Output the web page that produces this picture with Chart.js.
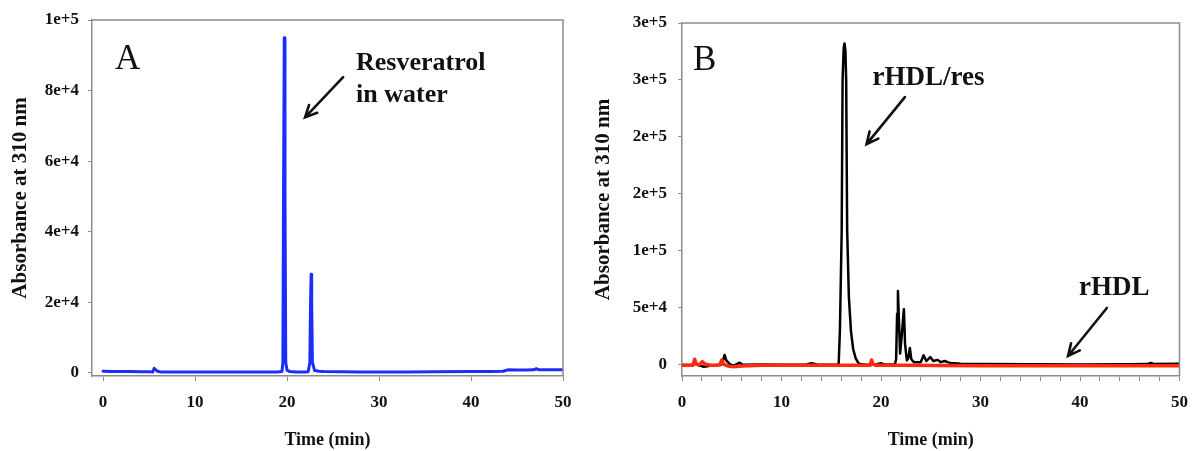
<!DOCTYPE html>
<html><head><meta charset="utf-8">
<script src="https://cdn.jsdelivr.net/npm/chart.js@4.4.1/dist/chart.umd.min.js"></script>
<style>
html,body{margin:0;padding:0;background:#fff;}
#wrap{position:relative;width:1199px;height:451px;overflow:hidden;}
.panel{position:absolute;top:0;height:451px;}
#pa{left:0;width:590px;}
#pb{left:590px;width:609px;}
</style></head><body>
<div id="wrap"><div class="panel" id="pa"><canvas id="ca"></canvas></div><div class="panel" id="pb"><canvas id="cb"></canvas></div></div>
<script>
// ---- Panel A: resveratrol in water ----
const aTime = [0,1,2,3,4,5,5.4,5.55,5.7,5.9,6.3,8,10,12,14,16,17,18,19,19.45,19.55,19.62,19.7,19.78,19.86,20.0,20.3,21,21.5,22,22.3,22.48,22.56,22.62,22.68,22.76,23.0,23.5,24,26,28,30,33,36,40,42,43.5,44,45,46,46.8,47.1,47.4,48,50];
const aAbs  = [500,450,420,400,380,350,250,1300,1000,500,300,300,250,250,250,270,300,250,280,400,3000,50000,95000,50000,3000,800,400,300,300,300,350,3000,20000,28000,20000,3000,700,500,400,350,300,300,300,350,400,450,500,900,850,850,900,1200,900,950,950];
const aYTicks = [0,20000,40000,60000,80000,100000];
const aYTickLabels = ['0','2e+4','4e+4','6e+4','8e+4','1e+5'];
const aXTicks = [0,10,20,30,40,50];
const aXTickLabels = ['0','10','20','30','40','50'];

// ---- Panel B: rHDL/res (black) and rHDL (red) ----
const bTime = [0,1,1.3,1.6,2.2,3,4.0,4.15,4.28,4.45,4.8,5.2,5.8,6.1,8,10,12.5,13,13.6,15.6,15.75,15.87,16.05,16.14,16.25,16.33,16.42,16.5,16.6,16.77,16.98,17.2,17.45,17.7,17.9,18.5,19.5,20,20.3,21.4,21.52,21.62,21.7,21.8,21.92,22.05,22.3,22.42,22.6,22.75,22.9,23.05,23.3,24.0,24.28,24.55,24.95,25.25,25.7,26.0,26.4,26.7,27,28,30,35,40,45,46.8,47.1,47.4,50];
const bAbs  = [0,200,1500,0,-1500,-500,500,5000,8800,4000,800,-500,2000,200,500,200,500,1500,500,200,1500,30000,118000,250000,278000,282000,276000,250000,118000,60000,30000,14000,6000,2000,800,300,500,1500,500,600,5000,45000,65000,40000,10000,22000,49000,18000,4000,6000,15000,5000,2500,2500,8500,3500,7000,3500,4500,2500,3500,2500,1800,1200,800,600,500,700,800,1800,900,1100];
const rTime = [0,1.1,1.28,1.42,1.8,2.05,2.3,2.8,3.8,4.0,4.2,4.6,5.2,6,8,12,16,18.9,19.05,19.2,19.5,22,30,40,50];
const rAbs  = [-300,-300,5000,600,500,2900,900,-200,0,4400,600,-800,-1500,-800,-300,-200,-300,-200,4400,500,-200,-300,-600,-700,-600];
const bYTicks = [0,50000,100000,150000,200000,250000,300000];
const bYTickLabels = ['0','5e+4','1e+5','2e+5','2e+5','3e+5','3e+5'];
const bXTicks = [0,2,4,6,8,10,12,14,16,18,20,22,24,26,28,30,32,34,36,38,40,42,44,46,48,50];
const bXTickLabels = ['0','','','','','10','','','','','20','','','','','30','','','','','40','','','','','50'];

const SERIF = '"Liberation Serif","Times New Roman",serif';
const AXIS_GRAY = '#8c8c8c';

function pts(xs, ys){ return xs.map((x,i)=>({x:x, y:ys[i]})); }

function makeAnnot(texts, arrows){
  return {
    id:'annot',
    afterDraw(chart){
      const {ctx, chartArea:ca, scales:{x,y}} = chart;
      ctx.save();
      ctx.strokeStyle = AXIS_GRAY; ctx.lineWidth = 1.5;
      ctx.beginPath(); ctx.moveTo(ca.left, ca.top); ctx.lineTo(ca.right, ca.top); ctx.lineTo(ca.right, ca.bottom); ctx.stroke();
      ctx.fillStyle = '#111'; ctx.textAlign = 'left'; ctx.textBaseline = 'alphabetic';
      for (const t of texts){
        ctx.font = t.font + ' ' + SERIF;
        ctx.fillText(t.text, x.getPixelForValue(t.x), y.getPixelForValue(t.y));
      }
      ctx.strokeStyle = '#111'; ctx.lineWidth = 2.6; ctx.lineCap = 'round';
      for (const a of arrows){
        const x1 = x.getPixelForValue(a.x1), y1 = y.getPixelForValue(a.y1);
        const x2 = x.getPixelForValue(a.x2), y2 = y.getPixelForValue(a.y2);
        const ang = Math.atan2(y2-y1, x2-x1), L = 13;
        ctx.beginPath(); ctx.moveTo(x1,y1); ctx.lineTo(x2,y2);
        ctx.moveTo(x2 - L*Math.cos(ang-0.45), y2 - L*Math.sin(ang-0.45)); ctx.lineTo(x2,y2);
        ctx.lineTo(x2 - L*Math.cos(ang+0.45), y2 - L*Math.sin(ang+0.45));
        ctx.stroke();
      }
      ctx.restore();
    }
  };
}

function makeChart(canvasId, datasets, cfg){
  return new Chart(document.getElementById(canvasId), {
    type:'line',
    data:{datasets: datasets},
    options:{
      responsive:true, maintainAspectRatio:false, animation:false,
      layout:{padding:{top:cfg.padTop, right:cfg.padRight, left:0, bottom:0}},
      plugins:{legend:{display:false}, tooltip:{enabled:false}},
      elements:{point:{radius:0}, line:{tension:0, borderJoinStyle:'round', borderCapStyle:'round'}},
      scales:{
        x:{type:'linear', min:cfg.xMin, max:50,
           afterFit(s){ s.height = 75; },
           afterBuildTicks(s){ s.ticks = cfg.xTicks.map(v=>({value:v})); },
           ticks:{autoSkip:false, maxRotation:0, padding:11, color:'#111',
                  font:{family:SERIF, size:17, weight:'bold'},
                  callback:(v)=> cfg.xLabels[cfg.xTicks.indexOf(v)] ?? ''},
           grid:{drawOnChartArea:false, drawTicks:true, tickLength:5, color:AXIS_GRAY, tickColor:AXIS_GRAY},
           border:{display:true, color:AXIS_GRAY, width:1.5},
           title:{display:true, text:'Time (min)', color:'#111', padding:{top:2,bottom:0},
                  font:{family:SERIF, size:18, weight:'bold'}}
        },
        y:{type:'linear', min:cfg.yMin, max:cfg.yMax,
           afterFit(s){ s.width = 92; },
           afterBuildTicks(s){ s.ticks = cfg.yTicks.map(v=>({value:v})); },
           ticks:{autoSkip:false, padding:cfg.yPad, color:'#111',
                  font:{family:SERIF, size:17, weight:'bold'},
                  callback:(v)=> cfg.yLabels[cfg.yTicks.indexOf(v)] ?? ''},
           grid:{drawOnChartArea:false, drawTicks:true, tickLength:4, color:AXIS_GRAY, tickColor:AXIS_GRAY},
           border:{display:true, color:AXIS_GRAY, width:1.5},
           title:{display:true, text:'Absorbance at 310 nm', color:'#111', padding:{top:cfg.yTitlePad,bottom:0},
                  font:{family:SERIF, size:21, weight:'bold'}}
        }
      }
    },
    plugins:[makeAnnot(cfg.texts, cfg.arrows)]
  });
}

makeChart('ca', [
  {data:pts(aTime,aAbs), borderColor:'#1c2cff', borderWidth:3, fill:false}
], {
  padTop:20, padRight:27, xMin:-1.2, xTicks:aXTicks, xLabels:aXTickLabels,
  yMin:-850, yMax:100000, yTicks:aYTicks, yLabels:aYTickLabels, yPad:9, yTitlePad:8,
  texts:[
    {text:'A', x:1.3, y:86000, font:'35px'},
    {text:'Resveratrol', x:27.5, y:85800, font:'bold 26px'},
    {text:'in water', x:27.5, y:76700, font:'bold 26px'}
  ],
  arrows:[{x1:26.1, y1:83800, x2:21.96, y2:72400}]
});

makeChart('cb', [
  {data:pts(rTime,rAbs), borderColor:'#ff2a10', borderWidth:3.5, fill:false},
  {data:pts(bTime,bAbs), borderColor:'#000000', borderWidth:2.5, fill:false}
], {
  padTop:23, padRight:13, xMin:0, xTicks:bXTicks, xLabels:bXTickLabels,
  yMin:-9650, yMax:300000, yTicks:bYTicks, yLabels:bYTickLabels, yPad:11, yTitlePad:1,
  texts:[
    {text:'B', x:1.1, y:258700, font:'35px'},
    {text:'rHDL/res', x:19.15, y:245600, font:'bold 27px'},
    {text:'rHDL', x:39.9, y:61400, font:'bold 27px'}
  ],
  arrows:[
    {x1:22.4, y1:235000, x2:18.55, y2:193800},
    {x1:42.7, y1:50000, x2:38.8, y2:7900}
  ]
});
</script>
</body></html>
